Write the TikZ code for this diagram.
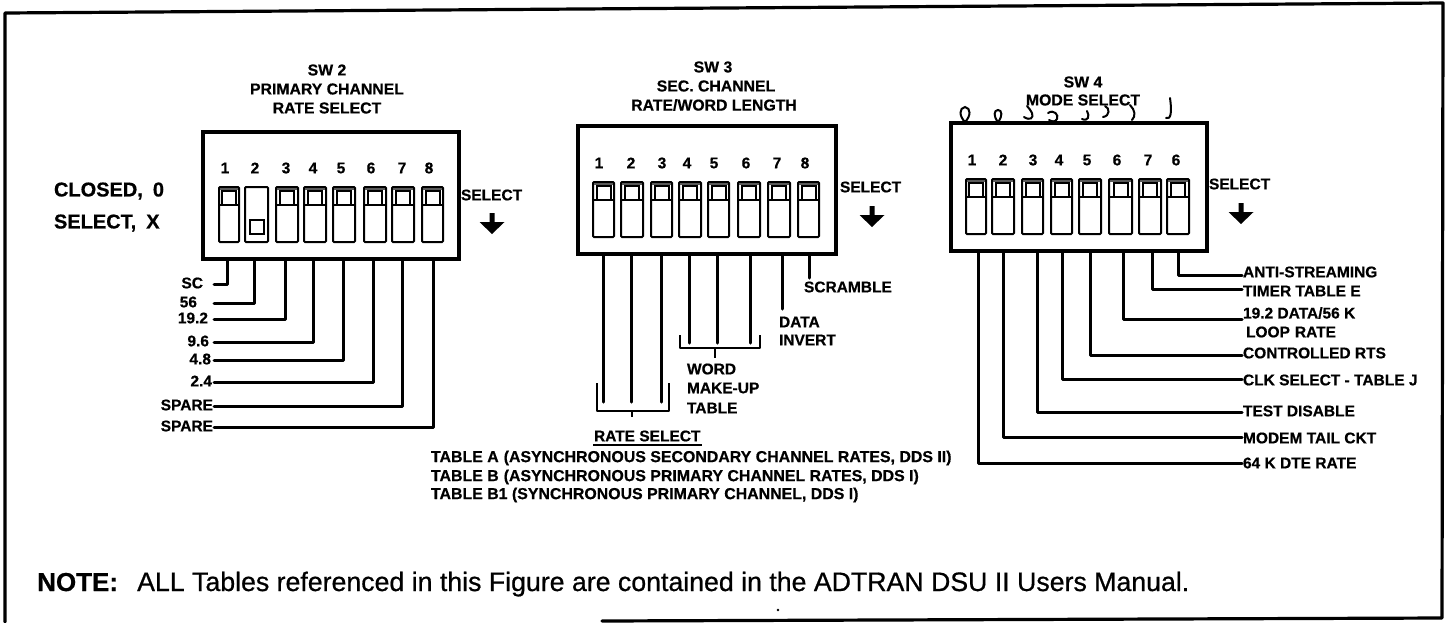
\documentclass[tikz,border=0pt]{standalone}
\usepackage{fontspec}
\setmainfont{Liberation Sans}[BoldFeatures={FakeBold=0.6}]
\newfontfamily\notefont{Liberation Sans}[BoldFont={Liberation Sans},BoldFeatures={FakeBold=0.7}]
\newcommand{\fsz}[1]{\fontsize{#1}{#1}\selectfont}
\tikzset{
  frameline/.style={line width=3.2pt,line cap=round,line join=round},
  devbox/.style={draw,line width=3.2pt,rectangle,inner sep=0pt,outer sep=0pt},
  swbody/.style={draw,line width=2pt,rectangle,rounded corners=1pt,inner sep=0pt,outer sep=0pt},
  swknob/.style={draw,line width=2pt,rectangle,inner sep=0pt,outer sep=0pt,minimum width=14pt,minimum height=14pt},
  wire/.style={line width=3pt,line join=round,line cap=round},
  brace/.style={line width=2pt,line join=round},
  scrib/.style={line width=2pt,line cap=round},
  lab/.style={inner sep=0pt,outer sep=0pt,font=\fsz{15.5}\bfseries},
  tbl/.style={inner sep=0pt,outer sep=0pt,font=\fsz{15.9}\bfseries},
  ttl/.style={inner sep=0pt,outer sep=0pt,font=\fsz{15.8}\bfseries},
  num/.style={inner sep=0pt,outer sep=0pt,font=\fsz{15.5}\bfseries},
  big/.style={inner sep=0pt,outer sep=0pt,font=\fsz{20}\bfseries},
}
\newcommand{\swrow}[4]{%
  \foreach \xa/\xb/\xn/\lbl [count=\i] in {#4}{%
    \node[swbody,minimum width={(\xb-\xa)*1pt},minimum height=55pt] (#1b\i) at ({(\xa+\xb)/2},#2+27.5) {};
    \node[num] (#1n\i) at (\xn,#3) {\lbl};
    \ifdim\xa pt=245pt
      \node[swknob] (#1k\i) at ({(\xa+\xb)/2},#2+40) {};
    \else
      \node[swknob] (#1k\i) at ({(\xa+\xb)/2},#2+11) {};
      \fill[black!65] (\xa+1,#2+1) rectangle (\xb-1,#2+3);
      \draw[line width=1.6pt] (\xa,#2+18) -- (\xb,#2+18);
    \fi
  }%
}
\newcommand{\selarrow}[2]{%
  \fill (#1-2.5,#2-21) -- (#1+2.5,#2-21) -- (#1+2.5,#2-12) -- (#1+12.5,#2-12) -- (#1,#2) -- (#1-12.5,#2-12) -- (#1-2.5,#2-12) -- cycle;
}
\begin{document}
\begin{tikzpicture}[x=1pt,y=-1pt]
\useasboundingbox (0,0) rectangle (1453,622);
% outer frame
\draw[frameline] (5,622) -- (5,13) -- (1443,3) -- (1442,618) -- (602,621);

% SW2
\node[devbox,minimum width=256pt,minimum height=127pt] (sw2) at (331,195.5) {};
\node[ttl] (t2a) at (327,70) {SW 2};
\node[ttl] (t2b) at (327,89) {PRIMARY CHANNEL};
\node[ttl] (t2c) at (327,108) {RATE SELECT};
\swrow{a}{187}{168}{219/239/225/1,245/268/255/2,276/298/286/3,304/326/313/4,333/355/341/5,364/386/371/6,392/414/402/7,422/443/429/8}
\node[big,anchor=west] (closed) at (54,191) {CLOSED,\hspace{10pt}0};
\node[big,anchor=west] (selx) at (54,223) {SELECT,\hspace{10pt}X};
\node[lab,anchor=west] (sel2) at (461,195) {SELECT};
\selarrow{492}{234}
\foreach \n/\xx/\yy/\txt/\rx in {1/227/284/SC/203,2/254/303/56/197,3/285/319/19.2/208,4/313/342/9.6/209,5/343/360/4.8/211,6/373/382/2.4/212,7/402/406/SPARE/213,8/433/427/SPARE/213}{
  \coordinate (p2\n) at (\xx,259);
  \node[lab,anchor=east] (l2\n) at (\rx,\yy-1) {\txt};
  \coordinate (e2\n) at (214,\yy);
  \draw[wire] (p2\n) -- (\xx,\yy) -- (e2\n);
}

% SW3
\node[devbox,minimum width=258pt,minimum height=128pt] (sw3) at (707,190) {};
\node[ttl] (t3a) at (713,67) {SW 3};
\node[ttl] (t3b) at (716,86) {SEC. CHANNEL};
\node[ttl] (t3c) at (714,105) {RATE/WORD LENGTH};
\swrow{b}{182}{163}{593/614/599/1,621/643/631/2,651/672/662/3,679/701/687/4,708/729/714/5,738/760/746/6,768/790/777/7,798/819/805/8}
\node[lab,anchor=west] (sel3) at (840,187) {SELECT};
\selarrow{872}{227}
\foreach \n/\xx/\ye in {1/603/402,2/631/402,3/661/402,4/689/343,5/717/343,6/750/343,7/782/309,8/809/278}{
  \coordinate (p3\n) at (\xx,254);
  \coordinate (e3\n) at (\xx,\ye);
  \draw[wire] (p3\n) -- (e3\n);
}
\node[lab,anchor=west] (scr) at (804,287) {SCRAMBLE};
\node[lab,anchor=west] (dat) at (779,322) {DATA};
\node[lab,anchor=west] (inv) at (779,340) {INVERT};
\node[lab,anchor=west] (wrd) at (687,369) {WORD};
\node[lab,anchor=west] (mak) at (687,388) {MAKE-UP};
\node[lab,anchor=west] (tab) at (687,408) {TABLE};
\coordinate (wb) at (715,348);
\draw[brace] (680,335) -- (680,348) -- (760,348) -- (760,335);
\draw[brace] (wb) -- (715,358);
\coordinate (rb) at (632,411);
\draw[brace] (597,383) -- (597,411) -- (669,411) -- (669,383);
\draw[brace] (rb) -- (632,417);
\node[lab,anchor=west] (rs) at (594,436) {RATE SELECT};
\draw[line width=1.5pt] (593,445) -- (702,445);
\node[tbl,anchor=west] (ta) at (431,458) {TABLE A\hspace{5pt}(ASYNCHRONOUS SECONDARY CHANNEL RATES, DDS II)};
\node[tbl,anchor=west] (tb) at (431,477) {TABLE B\hspace{5pt}(ASYNCHRONOUS PRIMARY CHANNEL RATES, DDS I)};
\node[tbl,anchor=west] (tc) at (431,495) {TABLE B1 (SYNCHRONOUS PRIMARY CHANNEL, DDS I)};

% SW4
\node[devbox,minimum width=256pt,minimum height=128pt] (sw4) at (1079,187) {};
\node[ttl] (t4a) at (1083,82) {SW 4};
\node[ttl] (t4b) at (1083,100) {MODE SELECT};
\swrow{c}{179}{160}{966/986/972/1,992/1014/1003/2,1022/1043/1033/3,1051/1072/1059/4,1079/1101/1087/5,1109/1132/1117/6,1139/1161/1148/7,1167/1189/1176/6}
\node[lab,anchor=west] (sel4) at (1209,184) {SELECT};
\selarrow{1241}{224}
\foreach \n/\xx/\yy/\ly/\txt in {8/1178/275/272/{ANTI-STREAMING},7/1152/289/291/{TIMER TABLE E},6/1123/319/313/{19.2 DATA/56 K},5/1090/355/353/{CONTROLLED RTS},4/1062/379/380/{CLK SELECT - TABLE J},3/1037/412/411/{TEST DISABLE},2/1003/437/438/{MODEM TAIL CKT},1/978/463/463/{64 K DTE RATE}}{
  \coordinate (p4\n) at (\xx,251);
  \node[lab,anchor=west] (l4\n) at (1243,\ly) {\txt};
  \coordinate (e4\n) at (1242,\yy);
  \draw[wire] (p4\n) -- (\xx,\yy) -- (e4\n);
}
\node[lab,anchor=west] (loop) at (1246,332) {LOOP\hspace{5pt}RATE};

% pen scribbles over SW4
\draw[scrib] (965,122) .. controls (959,116) and (959,108) .. (965,107) .. controls (971,108) and (971,116) .. (965,122);
\draw[scrib] (998,122) .. controls (993,116) and (994,110) .. (998,110) .. controls (1002,110) and (1003,116) .. (998,122);
\draw[scrib] (1024,117) .. controls (1030,121) and (1034,118) .. (1032,113) .. controls (1031,110) and (1029,109) .. (1027,106);
\draw[scrib] (1048,113) .. controls (1054,109) and (1059,115) .. (1057,119) .. controls (1055,123) and (1051,121) .. (1049,120);
\draw[scrib] (1082,119) .. controls (1088,122) and (1090,116) .. (1087,111);
\draw[scrib] (1103,117) .. controls (1110,116) and (1110,108) .. (1105,106);
\draw[scrib] (1130,105) .. controls (1135,110) and (1136,116) .. (1132,120);
\draw[scrib] (1166,118) .. controls (1171,120) and (1172,112) .. (1170,98);

% note
\node[inner sep=0pt,anchor=base west,font=\fsz{26}\bfseries] (notehd) at (37,591) {NOTE:};
\node[inner sep=0pt,anchor=base west,font=\fsz{26.7}\notefont\bfseries] (notetx) at (137,591) {ALL Tables referenced in this Figure are contained in the ADTRAN DSU II Users Manual.};
\fill (778,610) circle (1.3pt);
\end{tikzpicture}
\end{document}
